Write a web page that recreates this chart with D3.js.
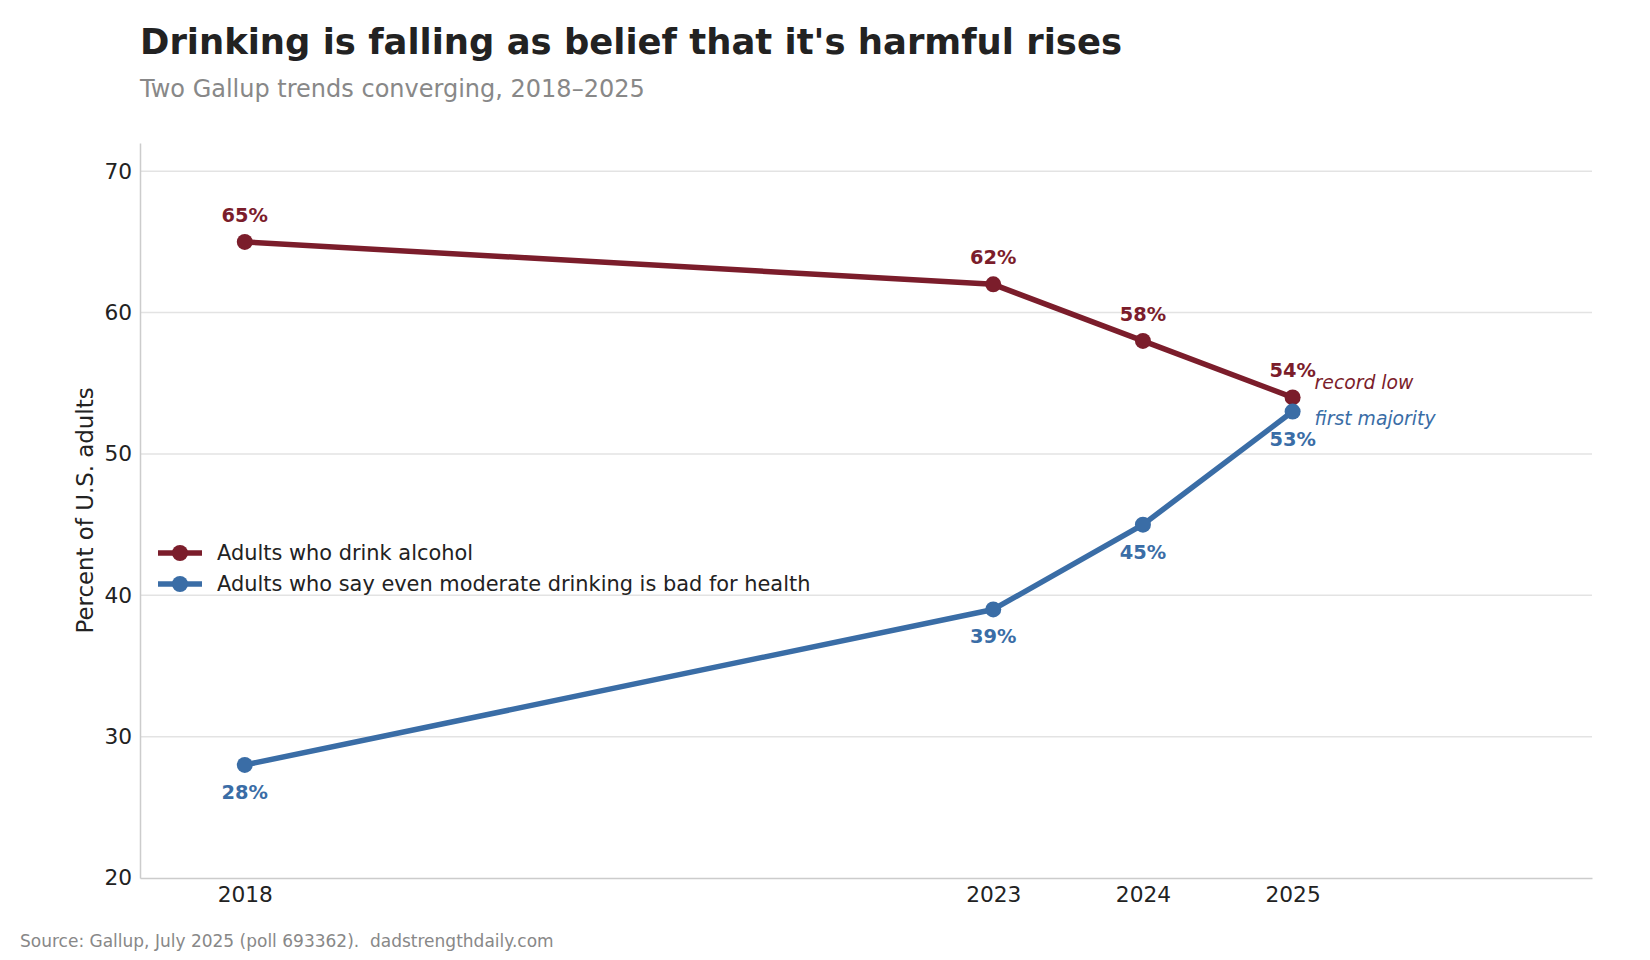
<!DOCTYPE html>
<html>
<head>
<meta charset="utf-8">
<script src="https://cdn.jsdelivr.net/npm/d3@7"></script>
<style>
  body { margin: 0; background: #fff; }
  svg text { font-family: "DejaVu Sans", sans-serif; }
</style>
</head>
<body>
<div id="chart"></div>
<script>
// data
const years = [2018, 2023, 2024, 2025];
const drinkPct = [65, 62, 58, 54];
const harmfulPct = [28, 39, 45, 53];
const yTicks = [20, 30, 40, 50, 60, 70];

const seriesNames = ["Adults who drink alcohol", "Adults who say even moderate drinking is bad for health"];
const red = "#7b1d2b";
const blue = "#3a6da6";

const W = 1650, H = 960;
const margin = { top: 143, right: 58, bottom: 82, left: 140 };
const width = W - margin.left - margin.right;
const height = H - margin.top - margin.bottom;

const svg = d3.select("#chart").append("svg")
  .attr("width", W).attr("height", H);

svg.append("text").attr("x", 140).attr("y", 54)
  .attr("font-size", 35.4).attr("font-weight", "bold").attr("fill", "#222")
  .text("Drinking is falling as belief that it's harmful rises");
svg.append("text").attr("x", 140).attr("y", 97)
  .attr("font-size", 24).attr("fill", "#888")
  .text("Two Gallup trends converging, 2018\u20132025");
svg.append("text").attr("x", 20).attr("y", 947)
  .attr("font-size", 17).attr("fill", "#888")
  .style("white-space", "pre")
  .text("Source: Gallup, July 2025 (poll 693362).  dadstrengthdaily.com");

const g = svg.append("g").attr("transform", `translate(${margin.left},${margin.top})`);

const x = d3.scaleLinear().domain([2017.3, 2027]).range([0, width]);
const y = d3.scaleLinear().domain([20, 72]).range([height, 0]);

// grid
g.selectAll(".grid").data(yTicks.filter(t => t > 20)).enter().append("line")
  .attr("x1", 0).attr("x2", width)
  .attr("y1", d => y(d)).attr("y2", d => y(d))
  .attr("stroke", "#e3e3e3").attr("stroke-width", 1.5);

const yAxis = g.append("g")
  .call(d3.axisLeft(y).tickValues(yTicks).tickSize(0).tickPadding(8));
yAxis.select(".domain").attr("stroke", "#cccccc").attr("stroke-width", 1.5);
yAxis.selectAll("text").attr("font-size", 21.7).attr("fill", "#222")
  .attr("font-family", "DejaVu Sans, sans-serif");

const xAxis = g.append("g").attr("transform", `translate(0,${height})`)
  .call(d3.axisBottom(x).tickValues(years).tickFormat(d3.format("d")).tickSize(0).tickPadding(9));
xAxis.select(".domain").attr("stroke", "#cccccc").attr("stroke-width", 1.5);
xAxis.selectAll("text").attr("font-size", 21.7).attr("fill", "#222")
  .attr("font-family", "DejaVu Sans, sans-serif");

g.append("text")
  .attr("transform", `translate(${86 - margin.left},${height / 2}) rotate(-90)`)
  .attr("text-anchor", "middle").attr("dominant-baseline", "middle")
  .attr("font-size", 22.9).attr("fill", "#222")
  .text("Percent of U.S. adults");

const line = d3.line().x(d => x(d[0])).y(d => y(d[1]));

function drawSeries(vals, color, above) {
  const pts = years.map((yr, i) => [yr, vals[i]]);
  g.append("path").datum(pts)
    .attr("d", line).attr("fill", "none")
    .attr("stroke", color).attr("stroke-width", 5.5).attr("stroke-linejoin", "round");
  g.selectAll(null).data(pts).enter().append("circle")
    .attr("cx", d => x(d[0])).attr("cy", d => y(d[1])).attr("r", 8)
    .attr("fill", color);
  g.selectAll(null).data(pts).enter().append("text")
    .attr("x", d => x(d[0]))
    .attr("y", d => y(d[1]) + (above ? -20 : 34))
    .attr("text-anchor", "middle")
    .attr("font-size", 19.4).attr("font-weight", "bold").attr("fill", color)
    .text(d => d[1] + "%");
}

drawSeries(drinkPct, red, true);
drawSeries(harmfulPct, blue, false);

// annotations on the 2025 points
g.append("text").attr("x", x(2025) + 22).attr("y", y(drinkPct[3]) - 8)
  .attr("font-size", 18.8).attr("font-style", "italic").attr("fill", red)
  .text("record low");
g.append("text").attr("x", x(2025) + 22).attr("y", y(harmfulPct[3]) + 13)
  .attr("font-size", 18.8).attr("font-style", "italic").attr("fill", blue)
  .text("first majority");

// legend
const legend = g.append("g").attr("transform", `translate(${158 - margin.left},${553 - margin.top})`);
[red, blue].forEach((c, i) => {
  const row = legend.append("g").attr("transform", `translate(0,${i * 31})`);
  row.append("line").attr("x1", 0).attr("x2", 44).attr("y1", 0).attr("y2", 0)
    .attr("stroke", c).attr("stroke-width", 5.5);
  row.append("circle").attr("cx", 22).attr("cy", 0).attr("r", 8).attr("fill", c);
  row.append("text").attr("x", 59).attr("y", 0).attr("dy", "0.35em")
    .attr("font-size", 20.9).attr("fill", "#222").text(seriesNames[i]);
});
</script>
</body>
</html>
